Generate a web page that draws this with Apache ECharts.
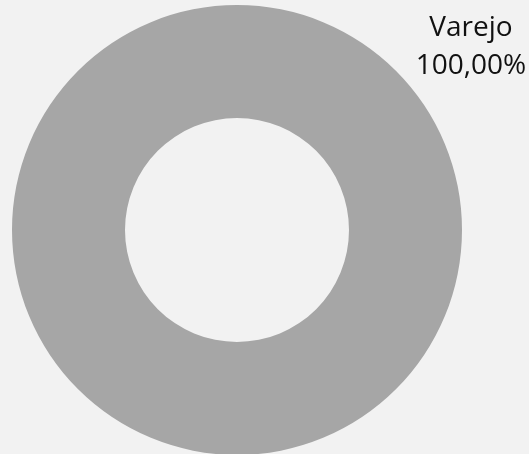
<!DOCTYPE html>
<html lang="pt">
<head>
    <meta charset="UTF-8">
    <title>Varejo</title>
    <script src="https://cdn.jsdelivr.net/npm/echarts@6/dist/echarts.min.js"></script>
    <style>
        html, body { margin: 0; padding: 0; background: #F2F2F2; }
        #chart { width: 529px; height: 454px; }
    </style>
</head>
<body>
<div id="chart"></div>
<script>
    // data
    var categories = ["Varejo"];
    var values = [100];

    var chart = echarts.init(document.getElementById('chart'));
    chart.setOption({
        backgroundColor: '#F2F2F2',
        animation: false,
        series: [{
            type: 'pie',
            center: [237, 230],
            radius: [112, 225],
            startAngle: 90,
            silent: true,
            itemStyle: {color: '#A6A6A6'},
            label: {
                show: true,
                position: 'outside',
                formatter: function (p) {
                    return p.name + '\n' + p.percent.toFixed(2).replace('.', ',') + '%';
                },
                fontFamily: 'Open Sans',
                fontSize: 28,
                lineHeight: 38,
                color: '#111111',
                align: 'center'
            },
            labelLine: {show: false},
            labelLayout: {x: 471, y: 47, align: 'center', verticalAlign: 'middle'},
            data: categories.map(function (c, i) { return {name: c, value: values[i]}; })
        }]
    });
</script>
</body>
</html>
